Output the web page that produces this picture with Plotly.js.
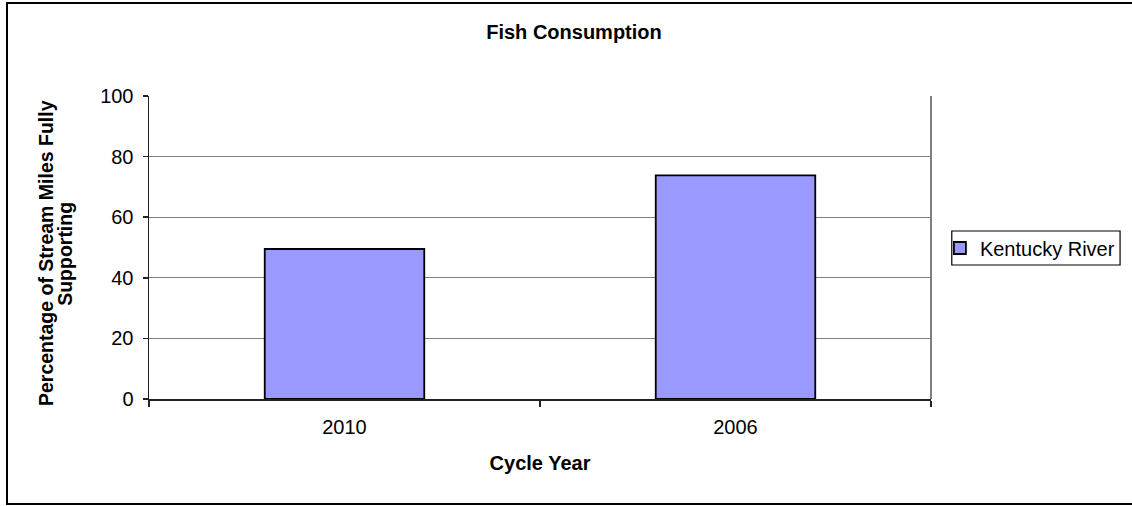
<!DOCTYPE html>
<html>
<head>
<meta charset="utf-8">
<script src="https://cdn.plot.ly/plotly-3.0.1.min.js"></script>
<style>
  html, body { margin: 0; padding: 0; background: #fff; overflow: hidden; }
  #wrap { position: relative; width: 1132px; height: 506px; overflow: hidden; }
  #chart { position: absolute; left: 0; top: 0; width: 1132px; height: 506px; }
  #frame { position: absolute; left: 6px; top: 2px; width: 1140px; height: 499px; border: 2px solid #000; pointer-events: none; }
</style>
</head>
<body>
<div id="wrap">
  <div id="chart"></div>
  <div id="frame"></div>
</div>
<script>
const categories = ["2010", "2006"];
const seriesName = "Kentucky River";
const values = [49.5, 73.8];
const yTickVals = [0, 20, 40, 60, 80, 100];
const yTickText = ["0", "20", "40", "60", "80", "100"];
const chartTitle = "Fish Consumption";
const xTitle = "Cycle Year";
const yTitleLines = ["Percentage of Stream Miles Fully", "Supporting"];

const FONT = "Liberation Sans, Arial, sans-serif";

const trace = {
  type: "bar",
  x: categories,
  y: values,
  name: seriesName,
  marker: { color: "#9999FF", line: { color: "#000000", width: 1.8 } },
  showlegend: true
};

const W = 1132, H = 506;
const L = 149, R = 939, T = 96, B = 399;
const px = v => (v - L) / (R - L);
const py = v => (B - v) / (B - T);

const layout = {
  width: W, height: H,
  margin: { l: L, r: W - R, t: T, b: H - B, pad: 0 },
  paper_bgcolor: "#ffffff",
  plot_bgcolor: "#ffffff",
  bargap: 0.592,
  font: { family: FONT, size: 20, color: "#000" },
  title: {
    text: "<b>" + chartTitle + "</b>",
    font: { family: FONT, size: 20, color: "#000" },
    x: 574 / W, xref: "container", xanchor: "center",
    y: 1 - 32 / H, yref: "container", yanchor: "middle"
  },
  xaxis: {
    type: "category",
    showline: true, linecolor: "#222", linewidth: 1.5,
    ticks: "outside", tickson: "boundaries", ticklen: 6, tickcolor: "#222", tickwidth: 1.5,
    showgrid: false, zeroline: false,
    ticklabelstandoff: 9,
    tickfont: { family: FONT, size: 20, color: "#000" },
    title: { text: "<b>" + xTitle + "</b>", font: { family: FONT, size: 20, color: "#000" }, standoff: 19 }
  },
  yaxis: {
    range: [0, 100],
    tickvals: yTickVals, ticktext: yTickText,
    showline: true, linecolor: "#222", linewidth: 1.5,
    ticks: "outside", ticklen: 5, tickcolor: "#222", tickwidth: 1.5,
    showgrid: true, gridcolor: "#808080", gridwidth: 1.2,
    zeroline: false,
    ticklabelstandoff: 5,
    tickfont: { family: FONT, size: 20, color: "#000" }
  },
  legend: {
    x: px(948), xanchor: "left",
    y: py(248), yanchor: "middle",
    bgcolor: "rgba(0,0,0,0)", borderwidth: 0,
    font: { family: FONT, size: 20, color: "#000" }
  },
  annotations: [
    { text: "<b>" + yTitleLines[0] + "</b>", xref: "paper", yref: "paper", x: px(45), y: py(253), xanchor: "center", yanchor: "middle", textangle: -90, showarrow: false, font: { family: FONT, size: 19.5, color: "#000" } },
    { text: "<b>" + yTitleLines[1] + "</b>", xref: "paper", yref: "paper", x: px(64), y: py(254), xanchor: "center", yanchor: "middle", textangle: -90, showarrow: false, font: { family: FONT, size: 19.5, color: "#000" } }
  ],
  shapes: [
    { type: "line", xref: "paper", yref: "paper", x0: 1, x1: 1, y0: 0, y1: 1, line: { color: "#808080", width: 2 } },
    { type: "rect", xref: "paper", yref: "paper", x0: px(960), x1: px(1130), y0: py(265), y1: py(231), line: { color: "#000", width: 1.2 }, fillcolor: "rgba(0,0,0,0)", layer: "below" }
  ]
};

Plotly.newPlot("chart", [trace], layout, { displayModeBar: false, staticPlot: true });
</script>
</body>
</html>
